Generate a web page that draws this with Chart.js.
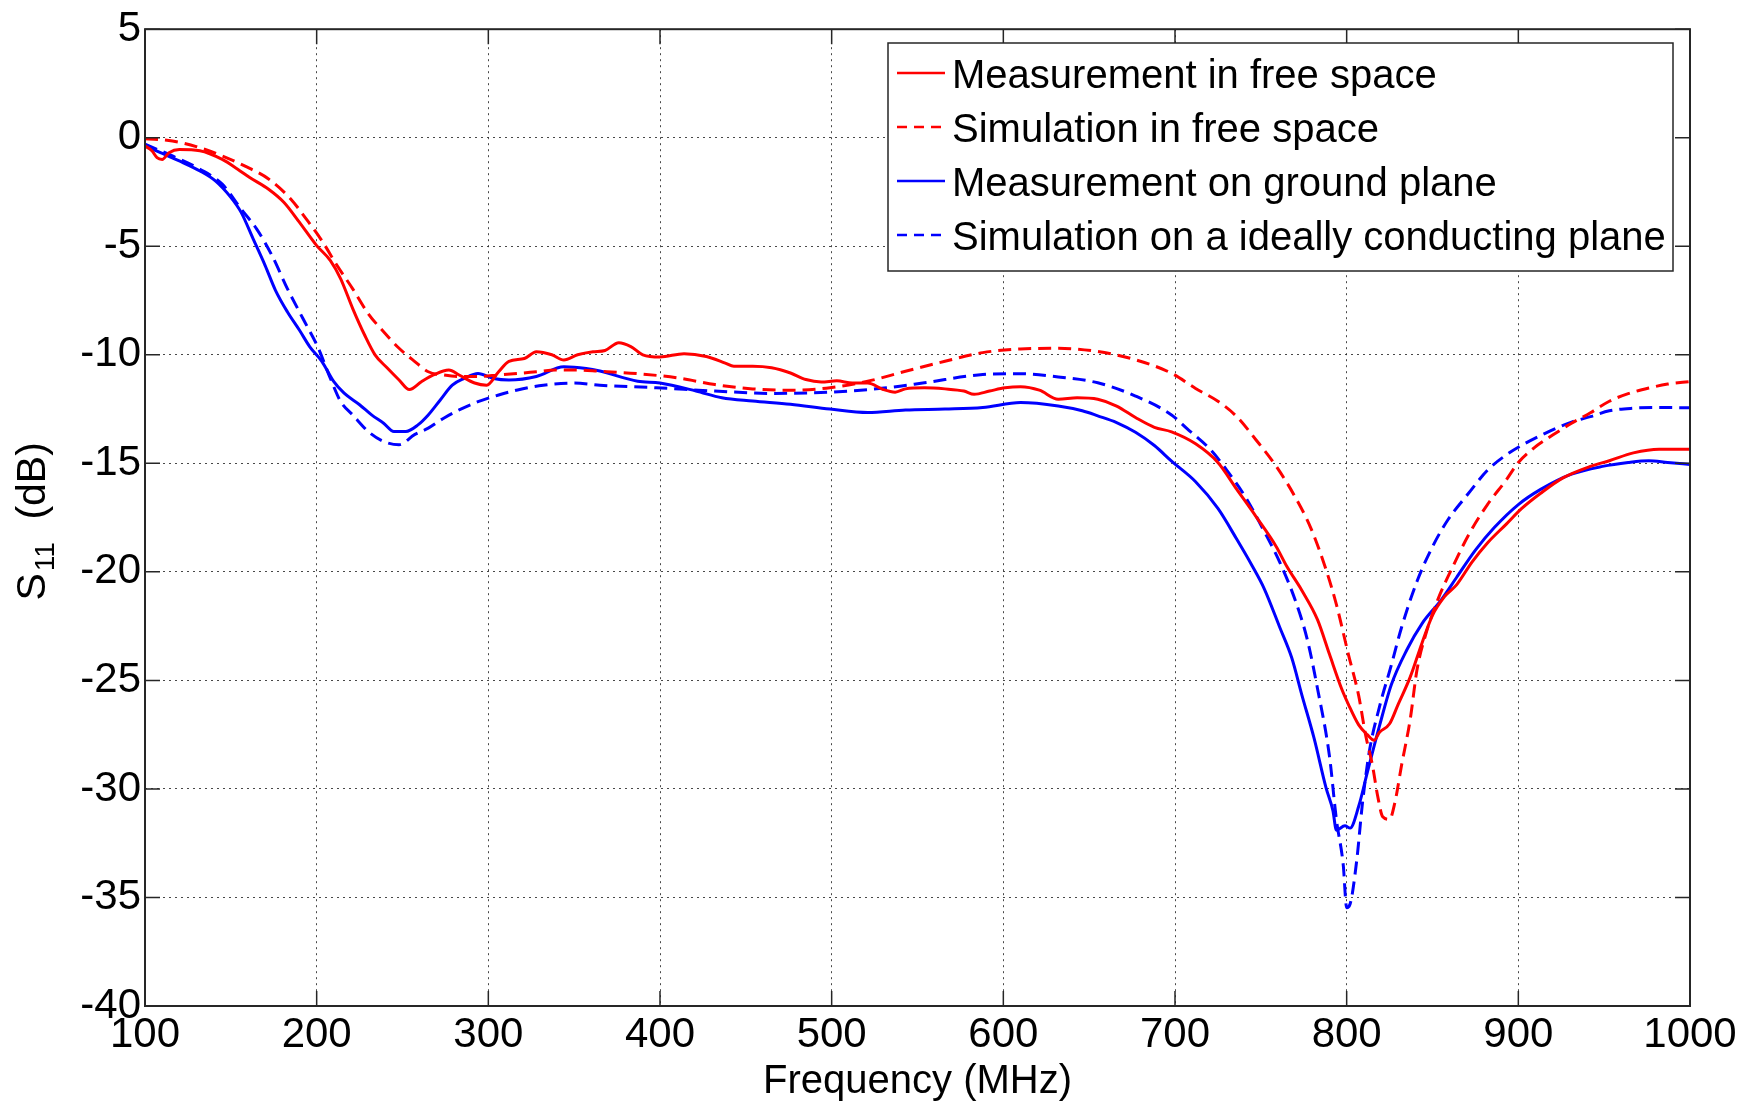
<!DOCTYPE html>
<html><head><meta charset="utf-8">
<script src="https://cdn.jsdelivr.net/npm/chart.js@4.4.0/dist/chart.umd.min.js"></script>
<style>html,body{margin:0;padding:0;background:#fff;}canvas{display:block;}</style>
</head><body>
<canvas id="c" width="1752" height="1104"></canvas>
<script>
const FONT = "'Liberation Sans',Arial,Helvetica,sans-serif";

const xTitle = "Frequency (MHz)";
const yTitleMain = "S", yTitleSub = "11", yTitleRest = "(dB)";
const seriesLabels = ["Measurement in free space","Simulation in free space","Measurement on ground plane","Simulation on a ideally conducting plane"];

const measFreeFreq = [100,104,107,110,114,120,132,145,154,161,172,181,190,200,208,214,221,228,234,241,248,254,261,268,277,283,292,299,306,312,321,328,337,344,352,361,368,376,383,390,400,414,427,438,443,454,465,476,485,494,503,512,521,530,537,543,554,566,577,583,592,601,610,621,632,643,655,666,677,688,698,712,725,736,747,759,765,774,783,790,797,801,807,812,816,819,825,830,837,844,850,857,864,873,882,893,902,913,926,942,953,967,982,1000];
const measFreeDb = [-0.38,-0.6,-0.92,-1.0,-0.69,-0.54,-0.6,-1.0,-1.45,-1.83,-2.37,-2.98,-3.9,-4.97,-5.66,-6.5,-7.87,-9.1,-10.0,-10.6,-11.16,-11.6,-11.24,-10.93,-10.7,-10.93,-11.3,-11.4,-10.78,-10.3,-10.17,-9.86,-10.0,-10.24,-10.0,-9.86,-9.8,-9.44,-9.62,-10.0,-10.1,-9.95,-10.08,-10.38,-10.53,-10.53,-10.6,-10.84,-11.14,-11.25,-11.2,-11.3,-11.3,-11.6,-11.72,-11.57,-11.52,-11.57,-11.67,-11.82,-11.67,-11.52,-11.47,-11.63,-12.05,-11.98,-12.05,-12.36,-12.89,-13.34,-13.55,-14.1,-14.96,-16.2,-17.43,-18.84,-19.73,-20.87,-22.2,-23.8,-25.37,-26.1,-27.05,-27.5,-27.76,-27.4,-27.0,-26.1,-24.85,-23.25,-22.0,-21.14,-20.6,-19.55,-18.67,-17.8,-17.08,-16.38,-15.67,-15.14,-14.88,-14.52,-14.35,-14.35];

const simFreeFreq = [100,116,132,145,158,172,185,194,203,212,221,230,239,248,257,265,274,283,294,306,317,328,339,350,365,387,410,432,454,476,499,521,543,566,588,610,632,655,677,698,712,725,736,747,759,770,779,788,794,801,807,811,815,818,821,825,828,832,837,841,846,853,862,871,882,893,900,909,920,931,942,953,964,976,987,1000];
const simFreeDb = [-0.05,-0.15,-0.46,-0.84,-1.3,-1.9,-2.83,-3.75,-4.74,-5.9,-6.96,-8.1,-8.94,-9.7,-10.3,-10.78,-10.93,-11.0,-11.0,-10.93,-10.86,-10.78,-10.7,-10.7,-10.76,-10.87,-11.06,-11.37,-11.57,-11.63,-11.52,-11.22,-10.76,-10.3,-9.9,-9.73,-9.7,-9.85,-10.23,-10.85,-11.55,-12.14,-12.85,-13.9,-15.14,-16.55,-17.96,-19.9,-21.5,-23.8,-25.7,-27.5,-28.9,-30.3,-31.28,-31.4,-30.66,-28.9,-26.8,-24.5,-22.9,-21.3,-19.73,-18.3,-16.9,-15.76,-14.96,-14.3,-13.7,-13.15,-12.67,-12.14,-11.79,-11.53,-11.35,-11.23];

const measGroundFreq = [100,109,120,132,141,150,156,163,170,176,183,190,196,203,210,216,225,232,239,245,252,259,265,272,279,286,294,303,312,328,344,357,365,387,400,421,436,454,476,499,521,543,566,588,610,632,646,655,666,677,688,698,712,725,736,745,752,761,768,774,781,788,792,794,799,802,807,812,819,826,835,844,855,864,875,886,900,913,931,949,964,976,987,1000];
const measGroundDb = [-0.38,-0.69,-1.07,-1.53,-1.99,-2.75,-3.44,-4.66,-5.89,-7.03,-8.03,-8.87,-9.63,-10.3,-11.24,-11.77,-12.3,-12.77,-13.15,-13.53,-13.53,-13.23,-12.77,-12.08,-11.4,-11.09,-10.86,-11.09,-11.16,-11.0,-10.55,-10.63,-10.75,-11.22,-11.3,-11.67,-11.98,-12.13,-12.28,-12.5,-12.66,-12.54,-12.5,-12.43,-12.2,-12.36,-12.58,-12.81,-13.12,-13.57,-14.18,-14.9,-15.85,-17.08,-18.5,-19.73,-20.78,-22.55,-23.96,-25.7,-27.66,-29.95,-31.0,-31.9,-31.7,-31.8,-30.8,-29.25,-27.13,-25.2,-23.6,-22.37,-21.3,-20.26,-19.0,-17.96,-16.9,-16.2,-15.5,-15.14,-14.96,-14.88,-14.96,-15.05];

const simGroundFreq = [100,116,132,145,156,165,174,183,192,201,208,214,221,230,239,248,257,265,274,283,294,306,317,332,350,365,398,432,465,499,532,554,588,610,632,655,677,698,707,721,730,741,752,761,770,777,783,790,794,798,800,802,806,809,813,819,826,832,841,850,859,871,882,893,904,915,931,942,953,967,980,1000];
const simGroundDb = [-0.3,-0.84,-1.45,-2.14,-3.29,-4.2,-5.43,-6.96,-8.33,-9.7,-11.09,-12.16,-12.77,-13.53,-13.99,-14.14,-13.68,-13.38,-12.92,-12.54,-12.16,-11.85,-11.62,-11.4,-11.3,-11.4,-11.52,-11.67,-11.78,-11.72,-11.52,-11.29,-10.91,-10.87,-11.02,-11.29,-11.9,-12.77,-13.4,-14.4,-15.3,-16.55,-18.14,-19.55,-21.3,-23.1,-25.37,-28.5,-31.4,-33.5,-35.47,-35.3,-33.2,-30.8,-28.37,-26.25,-24.3,-22.55,-20.43,-18.84,-17.6,-16.38,-15.32,-14.61,-14.08,-13.64,-13.1,-12.85,-12.58,-12.46,-12.43,-12.44];

const xMin = 100, xMax = 1000, xStep = 100;
const yMin = -40, yMax = 5, yStep = 5;

function pts(fs, vs){ return fs.map((f,i)=>({x:f, y:vs[i]})); }

const RED = '#ff0000', BLUE = '#0000ff';
const DASH = [13,7];

const datasets = [
  {label: seriesLabels[0], data: pts(measFreeFreq, measFreeDb), borderColor: RED, borderDash: []},
  {label: seriesLabels[1], data: pts(simFreeFreq, simFreeDb), borderColor: RED, borderDash: DASH},
  {label: seriesLabels[2], data: pts(measGroundFreq, measGroundDb), borderColor: BLUE, borderDash: []},
  {label: seriesLabels[3], data: pts(simGroundFreq, simGroundDb), borderColor: BLUE, borderDash: DASH}
].map(d => Object.assign(d, {borderWidth: 3, pointRadius: 0, fill: false, cubicInterpolationMode: 'monotone'}));

const frame = {
  id: 'frame',
  afterDatasetsDraw(chart){
    const ctx = chart.ctx, a = chart.chartArea;
    const xs = chart.scales.x, ys = chart.scales.y;
    ctx.save();
    ctx.strokeStyle = '#262626'; ctx.lineWidth = 1.5; ctx.setLineDash([]);
    ctx.beginPath();
    const L = 15;
    xs.ticks.forEach(t => { const p = xs.getPixelForValue(t.value);
      ctx.moveTo(p, a.bottom); ctx.lineTo(p, a.bottom - L);
      ctx.moveTo(p, a.top); ctx.lineTo(p, a.top + L); });
    ys.ticks.forEach(t => { const p = ys.getPixelForValue(t.value);
      ctx.moveTo(a.left, p); ctx.lineTo(a.left + L, p);
      ctx.moveTo(a.right, p); ctx.lineTo(a.right - L, p); });
    ctx.stroke();
    ctx.lineWidth = 2;
    ctx.strokeRect(a.left, a.top, a.right - a.left, a.bottom - a.top);
    ctx.restore();
  },
  afterDraw(chart){
    const ctx = chart.ctx, a = chart.chartArea;
    ctx.save();
    ctx.fillStyle = '#000';
    // x title
    ctx.font = "40px " + FONT;
    ctx.textAlign = 'center'; ctx.textBaseline = 'alphabetic';
    ctx.fillText(xTitle, (a.left + a.right)/2, 1093);
    // y title with subscript (rotated)
    ctx.translate(45, (a.top + a.bottom)/2);
    ctx.rotate(-Math.PI/2);
    ctx.textAlign = 'left';
    const mainF = "41px " + FONT, subF = "28px " + FONT;
    ctx.font = mainF; ctx.fillText(yTitleMain, -83, 0);
    const wS = ctx.measureText(yTitleMain).width;
    ctx.font = subF; ctx.fillText(yTitleSub, -83 + wS + 2, 9);
    ctx.font = mainF; ctx.fillText(yTitleRest, -2, 0);
    ctx.restore();

    // legend
    ctx.save();
    const bx = 888, by = 43, bw = 785, bh = 228;
    ctx.fillStyle = '#fff'; ctx.fillRect(bx, by, bw, bh);
    ctx.strokeStyle = '#262626'; ctx.lineWidth = 1.5; ctx.strokeRect(bx, by, bw, bh);
    ctx.font = "40px " + FONT; ctx.textAlign = 'left'; ctx.textBaseline = 'alphabetic';
    chart.data.datasets.forEach((d, i) => {
      const cy = 73 + i*54;
      ctx.strokeStyle = d.borderColor; ctx.lineWidth = 2.5;
      ctx.setLineDash(d.borderDash.length ? [10,7] : []);
      ctx.beginPath(); ctx.moveTo(897, cy); ctx.lineTo(945, cy); ctx.stroke();
      ctx.setLineDash([]);
      ctx.fillStyle = '#000'; ctx.fillText(d.label, 952, cy + 15);
    });
    ctx.restore();
  }
};

new Chart(document.getElementById('c'), {
  type: 'line',
  data: {datasets},
  options: {
    responsive: false, animation: false,
    layout: {padding: {top: 27, right: 62, left: 0, bottom: 0}},
    plugins: {legend: {display: false}, tooltip: {enabled: false}},
    scales: {
      x: {type: 'linear', min: xMin, max: xMax,
          ticks: {stepSize: xStep, color: '#000', padding: 4, font: {family: FONT, size: 42}, maxRotation: 0, autoSkip: false,
                  callback: v => String(v)},
          grid: {color: 'rgba(40,40,40,0.85)', lineWidth: 1, drawTicks: false},
          border: {display: false, dash: [2,4]},
          afterFit(s){ s.height = 98; }},
      y: {type: 'linear', min: yMin, max: yMax,
          ticks: {stepSize: yStep, color: '#000', padding: 4, font: {family: FONT, size: 42}, autoSkip: false,
                  callback: v => String(v)},
          grid: {color: 'rgba(40,40,40,0.85)', lineWidth: 1, drawTicks: false},
          border: {display: false, dash: [2,4]},
          afterFit(s){ s.width = 145; }}
    }
  },
  plugins: [frame]
});
</script>
</body></html>
